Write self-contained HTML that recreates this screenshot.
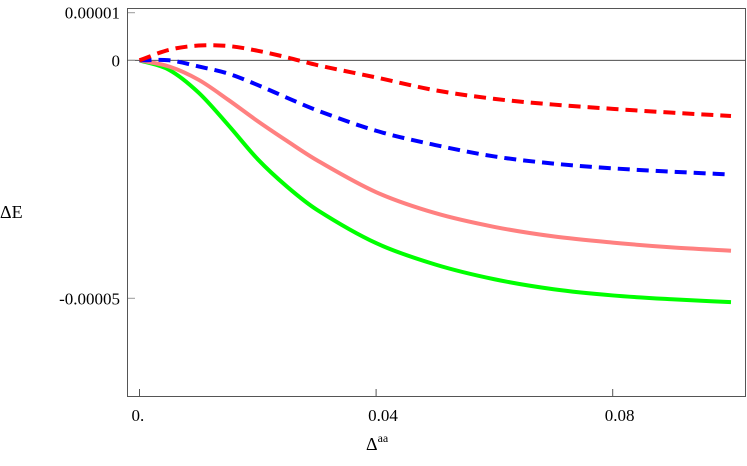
<!DOCTYPE html>
<html><head><meta charset="utf-8"><style>
body{margin:0;background:#fff}
text{font-family:"Liberation Serif","DejaVu Serif","Times New Roman",serif !important;fill:#000}
</style></head><body>
<svg width="747" height="461" id="c">
<rect x="127.5" y="8.5" width="618" height="388" fill="none" stroke="#555"/>
<g id="axes"></g>
<g id="series"></g>
<text x="0" y="218" font-size="18">ΔE</text>
<text x="366" y="450" font-size="18">Δ<tspan font-size="12" dy="-8">aa</tspan></text>
</svg>
<script>
const xs=[0,0.005,0.01,0.015,0.02,0.025,0.03,0.04,0.05,0.06,0.07,0.08,0.09,0.1];
const redVals=[0,2.2,3.1,3.0,2.0,0.6,-1.0,-3.6,-6.3,-8.1,-9.3,-10.2,-11,-11.7];
const blueVals=[0,0,-1.3,-2.8,-5.2,-7.9,-10.5,-14.8,-17.8,-20.2,-21.7,-22.7,-23.4,-24];
const pinkVals=[0,-1.3,-4.1,-8.3,-12.8,-17,-21,-27.7,-32.1,-35,-37,-38.3,-39.3,-40];
const greenVals=[0,-2,-6.8,-13.6,-20.8,-26.6,-31.4,-38.4,-42.9,-46,-48.1,-49.4,-50.2,-50.8];
const xTicks=[0,0.04,0.08];
const xTickLabels=["0.","0.04","0.08"];
const yTicks=[10,0,-50];
const yTickLabels=["0.00001","0","-0.00005"];
const X=v=>139.5+v*5915;
const Y=v=>60.3-v*4.76;
const NS="http://www.w3.org/2000/svg";
const ax=document.getElementById('axes'),sg=document.getElementById('series');
function mk(tag,attrs,parent){const e=document.createElementNS(NS,tag);for(const k in attrs)e.setAttribute(k,attrs[k]);parent.appendChild(e);return e;}
let zl=mk('line',{x1:127.5,x2:745.5,y1:Y(0),y2:Y(0),stroke:'#333','stroke-width':0.8},ax);


xTicks.forEach((t,i)=>{
 let l=mk('line',{x1:X(t),x2:X(t),y1:396,y2:389,stroke:'#555'},ax);
 
 
 let tx=mk('text',{x:X(t)-8,y:421,'font-size':17},ax);tx.textContent=xTickLabels[i];
 
 
});
yTicks.forEach((t,i)=>{
 let l=mk('line',{x1:128,x2:135,y1:Y(t),y2:Y(t),stroke:'#999'},ax);
 
 
 let tx=mk('text',{x:120,y:Y(t)+6,'font-size':17,'text-anchor':'end'},ax);tx.textContent=yTickLabels[i];
 
 
});
function path(vals){
 const p=xs.map((x,i)=>[X(x),Y(vals[i])]);
 let d='M'+p[0][0]+','+p[0][1];
 for(let i=0;i<p.length-1;i++){
  const p0=p[Math.max(0,i-1)],p1=p[i],p2=p[i+1],p3=p[Math.min(p.length-1,i+2)];
  const h=p2[0]-p1[0];
  const m1=(p2[1]-p0[1])/(p2[0]-p0[0]||1),m2=(p3[1]-p1[1])/(p3[0]-p1[0]||1);
  const c1=[p1[0]+h/3,p1[1]+m1*h/3],c2=[p2[0]-h/3,p2[1]-m2*h/3];
  d+=' C'+c1+' '+c2+' '+p2;
 }
 return d;
}
const defs=[[greenVals,'#00ff00',null,'green-series'],[pinkVals,'#ff8080',null,'pink-series'],[blueVals,'#0000ff','12,7','blue-series'],[redVals,'#ff0000','12,7','red-series']];
defs.forEach(([v,c,da,n])=>{
 const e=mk('path',{d:path(v),fill:'none',stroke:c,'stroke-width':4},sg);
 if(da)e.setAttribute('stroke-dasharray',da);
 
 
});
</script>
</body></html>
